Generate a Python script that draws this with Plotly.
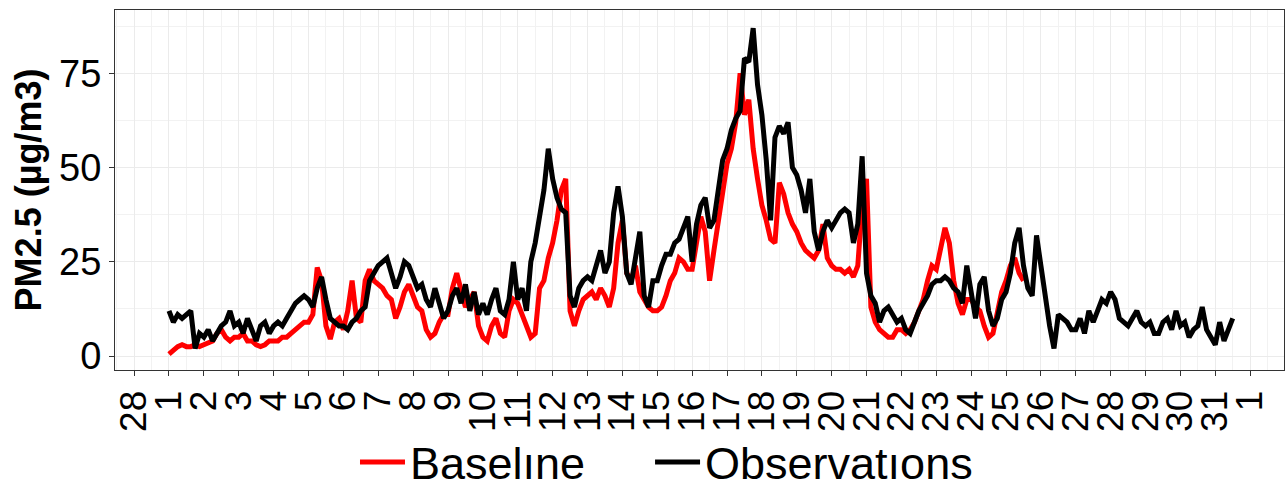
import pandas as pd
import plotly.graph_objects as go

# 3-hourly values (PM2.5, µg/m3), starting 1 March 00:00
observations = [
    12, 9, 11, 10, 11, 12, 2, 6,
    5, 7, 4, 6, 8, 9, 12, 8,
    9, 6, 10, 7, 4, 8, 9, 6,
    8, 9, 8, 10, 12, 14, 15, 16,
    15, 13, 18, 21, 15, 10, 9, 8,
    8, 7, 9, 10, 12, 13, 20, 22,
    24, 25, 26, 22, 18, 21, 25, 24,
    21, 18, 19, 15, 13, 18, 14, 10,
    12, 16, 18, 14, 19, 12, 17, 11,
    14, 11, 15, 18, 12, 11, 15, 25,
    15, 18, 12, 25, 30, 37, 44, 55,
    47, 42, 39, 38, 16, 13, 18, 20,
    21, 20, 24, 28, 22, 25, 38, 45,
    37, 22, 19, 26, 33, 16, 13, 20,
    20, 24, 27, 27, 30, 31, 34, 37,
    25, 35, 40, 42, 34, 36, 44, 52,
    55, 60, 63, 65, 79, 78, 87, 72,
    64, 52, 36, 58, 61, 59, 62, 50,
    48, 44, 38, 47, 33, 28, 33, 36,
    34, 36, 38, 39, 38, 30, 35, 53,
    22, 16, 14, 9, 12, 13, 11, 9,
    10, 7, 6, 9, 12, 14, 16, 19,
    20, 20, 21, 20, 18, 17, 14, 24,
    16, 10, 19, 21, 12, 8, 10, 15,
    17, 22, 30, 34, 24, 18, 16, 32,
    24, 15, 8, 2, 11, 10, 9, 7,
    7, 10, 6, 12, 9, 12, 15, 14,
    17, 15, 10, 9, 8, 10, 12, 9,
    8, 9, 6, 6, 9, 10, 7, 12,
    8, 9, 5, 7, 8, 13, 7, 5,
    3, 9, 4, 7, 10,
]

baseline = [
    0.5, 1.5, 2.5, 3, 2.5, 2.5, 3, 2.5,
    3, 3.5, 4, 6, 7, 5, 4, 5,
    5, 6, 4, 4, 3, 2.5, 3, 4,
    4, 4, 5, 5, 6, 7, 8, 9,
    9, 11, 23.5, 20, 8, 4.5, 9, 10,
    7, 12, 20, 10, 9, 20, 23, 20,
    19, 18, 16, 15, 10, 13, 17, 19,
    16, 13, 12, 7, 5, 6, 9, 11,
    11, 18, 22, 17, 13, 15, 17, 8,
    5, 4, 8, 10, 6, 5, 12, 15,
    14, 11, 8, 5, 6, 18, 20, 26,
    30, 36, 44, 47, 12, 8, 12, 15,
    16, 17, 15, 18, 16, 13, 18, 30,
    36, 22, 20, 24, 17, 15, 13, 12,
    12, 13, 16, 20, 22, 26, 25, 23,
    23, 30, 37, 33, 20, 28, 36, 45,
    51, 55, 62, 75, 64, 68, 55, 47,
    40, 36, 31, 30, 46, 43, 38, 35,
    33, 30, 28, 27, 26, 28, 35, 26,
    24, 23, 23, 22, 23, 21, 24, 40,
    47, 13, 9, 7, 6, 5, 5, 7,
    7, 6, 7, 9, 12, 15, 20, 24,
    23, 28, 34, 30, 20, 14, 11, 15,
    15, 13, 12, 8, 5, 6, 12, 17,
    20, 24, 26, 22, 20,
]

start = "2019-03-01 00:00"
step = "3h"
obs_time = pd.date_range(start, periods=len(observations), freq=step)
base_time = pd.date_range(start, periods=len(baseline), freq=step)

tick_dates = pd.date_range("2019-02-28", "2019-04-01", freq="D")
tick_labels = [str(d.day) for d in tick_dates]
minor_dates = pd.date_range("2019-02-27 12:00", "2019-04-01 12:00", freq="D")

y_ticks = [0, 25, 50, 75]
y_minor = [12.5, 37.5, 62.5, 87.5]

FONT = "Liberation Sans, Arial, sans-serif"

fig = go.Figure()
fig.add_trace(go.Scatter(x=base_time, y=baseline, mode="lines", name="Baselıne",
                         line=dict(color="#FF0000", width=5), legend="legend"))
fig.add_trace(go.Scatter(x=obs_time, y=observations, mode="lines", name="Observatıons",
                         line=dict(color="#000000", width=5), legend="legend2"))

legend_style = dict(orientation="h", xanchor="left", y=-0.256, yanchor="middle",
                    font=dict(size=45, family=FONT, color="black"),
                    itemwidth=45, bgcolor="rgba(0,0,0,0)")

fig.update_layout(
    width=1286, height=488,
    margin=dict(l=115, r=2, t=10, b=118, autoexpand=False),
    paper_bgcolor="white", plot_bgcolor="white",
    font=dict(family=FONT, color="black"),
    showlegend=True,
    legend=dict(x=0.2053, **legend_style),
    legend2=dict(x=0.4577, **legend_style),
)

fig.update_xaxes(
    range=[pd.Timestamp("2019-02-27 10:51"), pd.Timestamp("2019-04-01 23:17")],
    tickmode="array", tickvals=tick_dates, ticktext=tick_labels,
    tickangle=-90, tickfont=dict(size=37, family=FONT, color="black"),
    ticks="outside", ticklen=5, tickwidth=1, tickcolor="#333333",
    showgrid=True, gridcolor="#EBEBEB", gridwidth=1,
    minor=dict(tickmode="array", tickvals=minor_dates, showgrid=True,
               gridcolor="#F2F2F2", gridwidth=1, ticks=""),
    showline=True, linecolor="#333333", linewidth=1, mirror=True,
    zeroline=False, automargin=False,
)
fig.update_yaxes(
    range=[-3.7, 91.8],
    tickmode="array", tickvals=y_ticks, ticktext=[str(v) for v in y_ticks],
    tickfont=dict(size=38, family=FONT, color="black"),
    ticks="outside", ticklen=5, tickwidth=1, tickcolor="#333333",
    showgrid=True, gridcolor="#EBEBEB", gridwidth=1,
    minor=dict(tickmode="array", tickvals=y_minor, showgrid=True,
               gridcolor="#F2F2F2", gridwidth=1, ticks=""),
    showline=True, linecolor="#333333", linewidth=1, mirror=True,
    zeroline=False, automargin=False,
    title=dict(text="<b>PM2.5 (µg/m3)</b>", font=dict(size=36, family=FONT, color="black"),
               standoff=6),
)

fig.write_html("out.html")
